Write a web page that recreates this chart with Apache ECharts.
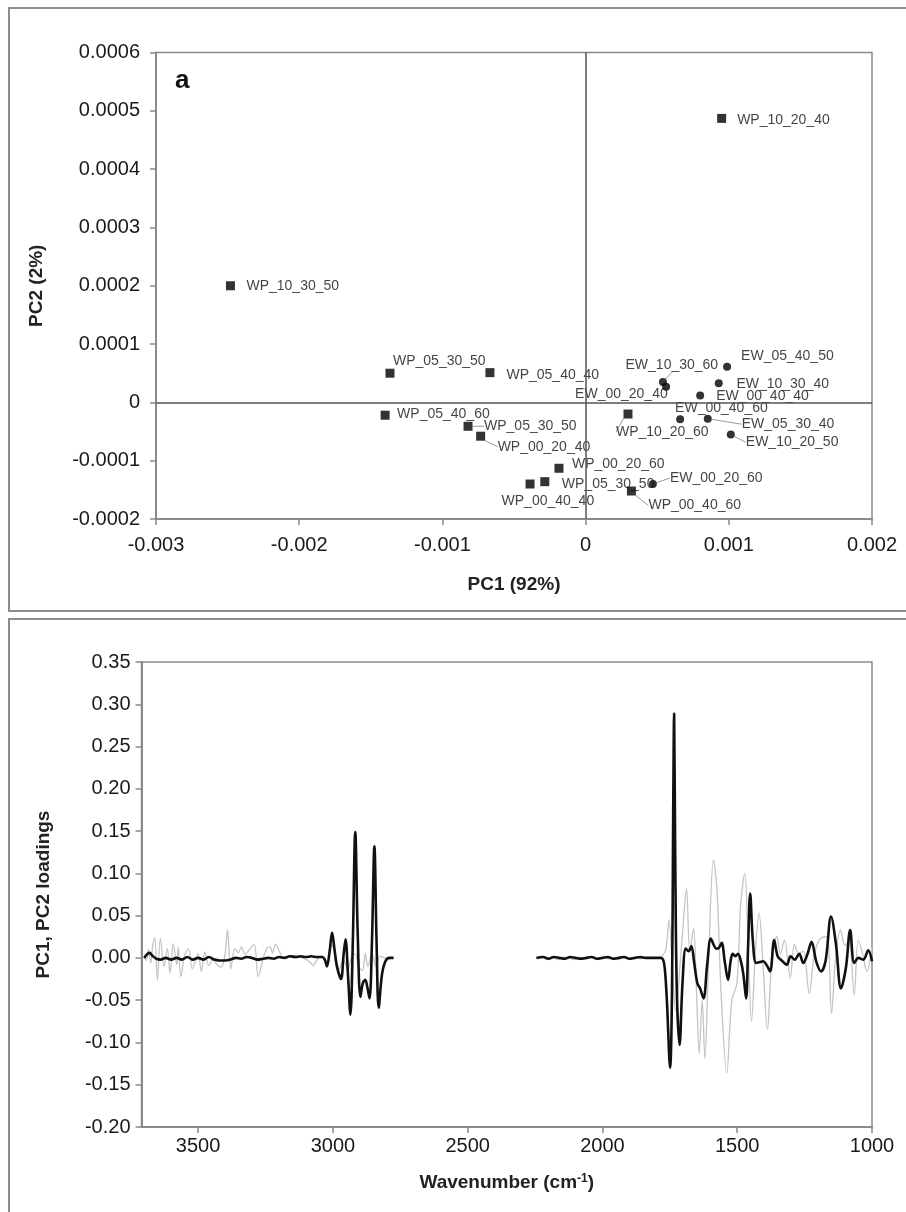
<!DOCTYPE html>
<html>
<head>
<meta charset="utf-8">
<script src="https://cdn.jsdelivr.net/npm/echarts@6/dist/echarts.min.js"></script>
<style>
  html, body { margin: 0; padding: 0; background: #fff; }
  #chart { width: 906px; height: 1212px; }
</style>
</head>
<body>
<div id="chart"></div>
<script>
// scores plot (a)
const wpNames = ['WP_10_20_40', 'WP_10_30_50', 'WP_05_30_50', 'WP_05_40_40', 'WP_05_40_60', 'WP_05_30_50',
  'WP_00_20_40', 'WP_00_20_60', 'WP_05_30_50', 'WP_00_40_40', 'WP_10_20_60', 'WP_00_40_60'];
const wpPC1 = [0.00095, -0.00248, -0.001366, -0.000668, -0.0014, -0.000821, -0.000733, -0.000186, -0.000285, -0.000388, 0.000296, 0.00032];
const wpPC2 = [0.000487, 0.0002, 0.00005, 0.000051, -0.000022, -0.000041, -0.000058, -0.000113, -0.000136, -0.00014, -0.00002, -0.000152];

const ewNames = ['EW_05_40_50', 'EW_10_30_40', 'EW_10_30_60', 'EW_00_20_40', 'EW_00_40_40', 'EW_00_40_60',
  'EW_05_30_40', 'EW_10_20_50', 'EW_00_20_60'];
const ewPC1 = [0.000988, 0.00093, 0.00054, 0.000562, 0.0008, 0.00066, 0.000853, 0.001014, 0.00047];
const ewPC2 = [0.000061, 0.000033, 0.000035, 0.000027, 0.000012, -0.000029, -0.000028, -0.000055, -0.00014];

// label nudges (px) and which labels get a connector
const wpLabelShift = [[6, 1.5], [6.5, 0], [-6.5, -12], [7, 2.5], [2.5, -1], [6.5, 0], [7.5, 10.5], [3.5, -4], [7.5, 2], [-38, 17.6], [-21.5, 18], [7.5, 14.6]];
const ewLabelShift = [[5, -10.7], [8.6, 1.3], [-46.4, -16.5], [-100, 7.5], [7, 1], [-14, -11], [25, 5.5], [6, 8], [8, -6]];
const wpLinks = [5, 6, 10, 11];
const ewLinks = [2, 6, 7, 8];

// loadings plot, [wavenumber, loading]
const pc1High = [
  [3700, 0.000], [3690, 0.004], [3680, 0.006], [3668, 0.002], [3655, -0.001], [3640, -0.002], [3620, 0.000],
  [3600, -0.002], [3580, 0.000], [3560, -0.002], [3540, 0.001], [3520, -0.002], [3500, 0.000], [3480, -0.002],
  [3460, 0.001], [3440, -0.002], [3420, -0.003], [3400, -0.003], [3380, -0.002], [3360, 0.000], [3340, -0.001],
  [3320, 0.001], [3300, 0.000], [3280, -0.002], [3260, -0.001], [3240, 0.000], [3220, -0.001], [3200, 0.001],
  [3180, 0.000], [3160, 0.002], [3140, 0.001], [3120, 0.002], [3100, 0.001], [3080, 0.002], [3060, 0.001],
  [3040, 0.001], [3030, -0.002], [3022, -0.010], [3012, 0.008], [3003, 0.030], [2994, 0.010], [2985, -0.010],
  [2970, -0.025], [2960, 0.005], [2953, 0.022], [2944, -0.020], [2935, -0.067], [2926, 0.020], [2917, 0.149],
  [2908, 0.030], [2898, -0.046], [2889, -0.030], [2880, -0.026], [2872, -0.035], [2864, -0.048], [2855, 0.020],
  [2846, 0.132], [2838, 0.020], [2830, -0.059], [2818, -0.020], [2805, -0.004], [2790, 0.000], [2775, 0.000]
];
const pc1Low = [
  [2245, 0.000], [2220, 0.001], [2200, -0.001], [2180, 0.001], [2160, 0.000], [2140, -0.001], [2120, 0.001],
  [2100, 0.000], [2080, -0.001], [2060, 0.000], [2040, 0.001], [2020, -0.001], [2000, 0.000], [1980, 0.001],
  [1960, -0.001], [1940, 0.000], [1920, 0.001], [1900, -0.001], [1880, 0.000], [1860, 0.001], [1840, 0.000],
  [1820, 0.000], [1800, 0.000], [1785, 0.000], [1775, -0.002], [1768, -0.015], [1761, -0.050], [1749, -0.130],
  [1742, -0.040], [1738, 0.150], [1734, 0.289], [1730, 0.120], [1724, -0.040], [1714, -0.103], [1703, -0.030],
  [1691, 0.011], [1680, 0.008], [1670, 0.014], [1660, -0.005], [1648, -0.030], [1638, -0.036], [1625, -0.048],
  [1612, -0.010], [1598, 0.023], [1588, 0.016], [1578, 0.011], [1568, 0.012], [1558, 0.018], [1546, -0.005],
  [1534, -0.026], [1525, -0.005], [1517, 0.005], [1507, 0.002], [1497, 0.005], [1487, -0.003], [1477, -0.020],
  [1467, -0.048], [1460, 0.010], [1452, 0.076], [1442, 0.020], [1430, -0.006], [1416, -0.005], [1404, -0.004],
  [1390, -0.009], [1378, -0.016], [1363, 0.021], [1350, 0.002], [1335, -0.003], [1316, -0.008], [1302, 0.002],
  [1287, -0.002], [1270, 0.005], [1255, -0.006], [1240, 0.004], [1224, 0.019], [1207, -0.004], [1189, -0.016],
  [1172, -0.003], [1152, 0.049], [1134, 0.017], [1115, -0.036], [1097, -0.012], [1081, 0.033], [1066, -0.006],
  [1050, 0.000], [1032, -0.002], [1014, 0.009], [1000, -0.004]
];
const pc2High = [
  [3700, 0.000], [3692, -0.003], [3684, 0.010], [3676, -0.006], [3668, 0.015], [3661, 0.024], [3651, -0.026],
  [3640, 0.023], [3626, -0.010], [3614, 0.011], [3604, -0.018], [3592, 0.017], [3579, -0.008], [3574, 0.013],
  [3564, -0.022], [3550, 0.003], [3535, 0.011], [3522, -0.013], [3510, -0.004], [3500, 0.005], [3488, -0.016],
  [3475, 0.007], [3460, -0.009], [3445, -0.002], [3430, -0.008], [3414, -0.011], [3400, 0.005], [3391, 0.033],
  [3379, -0.013], [3364, 0.011], [3352, 0.006], [3339, 0.013], [3326, 0.004], [3310, 0.010], [3292, 0.016],
  [3277, -0.022], [3262, -0.005], [3246, 0.011], [3234, 0.013], [3224, 0.006], [3213, 0.016], [3200, 0.009],
  [3185, 0.001], [3165, 0.002], [3145, 0.003], [3125, 0.001], [3105, -0.001], [3085, -0.005], [3073, -0.009],
  [3062, -0.004], [3050, 0.001], [3040, 0.002], [3030, -0.004], [3020, -0.008], [3010, 0.010], [3000, 0.015],
  [2990, -0.005], [2980, -0.015], [2960, -0.002], [2945, -0.015], [2930, 0.002], [2917, 0.005], [2905, -0.010],
  [2890, -0.015], [2880, 0.005], [2870, -0.010], [2855, 0.005], [2840, -0.010], [2825, 0.002], [2805, 0.000],
  [2785, 0.000], [2775, 0.000]
];
const pc2Low = [
  [2245, 0.000], [2225, 0.002], [2205, -0.002], [2185, 0.001], [2165, -0.002], [2145, 0.001], [2125, 0.000],
  [2105, -0.002], [2085, 0.001], [2060, -0.001], [2040, 0.001], [2020, -0.002], [2000, 0.001], [1980, -0.001],
  [1960, 0.000], [1940, -0.002], [1920, 0.001], [1900, -0.001], [1880, 0.000], [1860, -0.001], [1840, 0.000],
  [1820, 0.000], [1800, 0.000], [1780, 0.002], [1765, 0.010], [1753, 0.045], [1741, -0.010], [1728, -0.063],
  [1710, 0.000], [1698, 0.050], [1688, 0.082], [1676, 0.008], [1662, 0.035], [1651, -0.040], [1641, -0.113],
  [1630, -0.050], [1620, -0.119], [1606, 0.000], [1588, 0.116], [1575, 0.080], [1560, -0.040], [1539, -0.136],
  [1520, -0.050], [1501, -0.030], [1487, 0.065], [1472, 0.100], [1460, 0.020], [1447, -0.075], [1432, 0.010],
  [1419, 0.053], [1404, -0.010], [1388, -0.085], [1372, -0.005], [1353, 0.025], [1340, 0.005], [1325, 0.021],
  [1303, -0.024], [1288, 0.016], [1272, 0.005], [1255, 0.008], [1233, -0.042], [1215, 0.002], [1196, 0.021],
  [1172, 0.025], [1162, 0.020], [1150, -0.066], [1135, 0.000], [1117, 0.033], [1100, 0.015], [1085, 0.020],
  [1066, -0.044], [1051, 0.021], [1035, 0.005], [1019, -0.016], [1000, 0.013]
];

const FONT = 'Liberation Sans, Arial, sans-serif';
const chart = echarts.init(document.getElementById('chart'));

function scatterData(names, xs, ys, links) {
  return names.map((n, i) => ({
    name: n,
    value: [xs[i], ys[i]],
    labelLine: { show: links.indexOf(i) >= 0 }
  }));
}

// a gap between the two spectral windows
const pc1Data = pc1High.concat([[2500, null]], pc1Low);
const pc2Data = pc2High.concat([[2500, null]], pc2Low);

const tickFmt = (digits) => (v) => (Math.abs(v) < 1e-12 ? '0' : v.toFixed(digits));

const axisCommon = {
  axisLine: { show: true, onZero: false, lineStyle: { color: '#8a8a8a', width: 2 } },
  axisTick: { show: true, inside: false, length: 6, lineStyle: { color: '#8a8a8a', width: 1.5 } },
  splitLine: { show: false },
  nameTextStyle: { fontFamily: FONT, fontSize: 19, fontWeight: 'bold', color: '#222' }
};

const option = {
  animation: false,
  backgroundColor: '#fff',
  textStyle: { fontFamily: FONT },
  graphic: [
    { type: 'rect', shape: { x: 9, y: 8, width: 920, height: 603 }, style: { fill: 'none', stroke: '#8c8c8c', lineWidth: 2 }, z: 0 },
    { type: 'rect', shape: { x: 9, y: 619, width: 920, height: 620 }, style: { fill: 'none', stroke: '#8c8c8c', lineWidth: 2 }, z: 0 },
    { type: 'text', left: 175, top: 68, style: { text: 'a', font: 'bold 26px ' + FONT, fill: '#111' }, z: 10 }
  ],
  grid: [
    { left: 156, top: 52.5, right: 34, height: 466.5, show: true, borderColor: '#8a8a8a', borderWidth: 1.5, backgroundColor: 'transparent' },
    { left: 141.5, top: 662, right: 34, height: 465, show: true, borderColor: '#8a8a8a', borderWidth: 1.5, backgroundColor: 'transparent' }
  ],
  xAxis: [
    Object.assign({}, axisCommon, {
      gridIndex: 0, type: 'value', min: -0.003, max: 0.002, interval: 0.001,
      name: 'PC1 (92%)', nameLocation: 'middle', nameGap: 56,
      axisLabel: { margin: 16, fontSize: 20, color: '#1a1a1a', fontFamily: FONT, formatter: tickFmt(3) }
    }),
    Object.assign({}, axisCommon, {
      gridIndex: 1, type: 'value', min: 1000, max: 3710, interval: 500, inverse: true,
      name: 'Wavenumber (cm{sup|-1})', nameLocation: 'middle', nameGap: 46,
      nameTextStyle: Object.assign({}, axisCommon.nameTextStyle, {
        rich: { sup: { fontFamily: FONT, fontSize: 12, fontWeight: 'bold', color: '#222', verticalAlign: 'top', padding: [0, 0, 8, 0] } }
      }),
      axisLabel: { margin: 9, fontSize: 20, color: '#1a1a1a', fontFamily: FONT, showMaxLabel: false,
        formatter: (v) => (v % 500 === 0 ? String(v) : '') }
    })
  ],
  yAxis: [
    Object.assign({}, axisCommon, {
      gridIndex: 0, type: 'value', min: -0.0002, max: 0.0006, interval: 0.0001,
      name: 'PC2 (2%)', nameLocation: 'middle', nameGap: 110,
      axisLabel: { margin: 16, fontSize: 20, color: '#1a1a1a', fontFamily: FONT, formatter: tickFmt(4) }
    }),
    Object.assign({}, axisCommon, {
      gridIndex: 1, type: 'value', min: -0.2, max: 0.35, interval: 0.05,
      name: 'PC1, PC2 loadings', nameLocation: 'middle', nameGap: 88,
      axisLabel: { margin: 11, fontSize: 20, color: '#1a1a1a', fontFamily: FONT, formatter: (v) => v.toFixed(2) }
    })
  ],
  series: [
    {
      name: 'WP', type: 'scatter', xAxisIndex: 0, yAxisIndex: 0,
      symbol: 'rect', symbolSize: 9, itemStyle: { color: '#000' },
      data: scatterData(wpNames, wpPC1, wpPC2, wpLinks),
      label: { show: true, position: 'right', distance: 5, formatter: '{b}', fontSize: 14, color: '#111', fontFamily: FONT },
      labelLine: { lineStyle: { color: '#9a9a9a', width: 1 } },
      labelLayout: (p) => ({ dx: wpLabelShift[p.dataIndex][0], dy: wpLabelShift[p.dataIndex][1] }),
      markLine: {
        silent: true, symbol: 'none', label: { show: false },
        lineStyle: { color: '#555', width: 1.5, type: 'solid' },
        data: [{ xAxis: 0 }, { yAxis: 0 }]
      },
      z: 3
    },
    {
      name: 'EW', type: 'scatter', xAxisIndex: 0, yAxisIndex: 0,
      symbol: 'circle', symbolSize: 8, itemStyle: { color: '#000' },
      data: scatterData(ewNames, ewPC1, ewPC2, ewLinks),
      label: { show: true, position: 'right', distance: 5, formatter: '{b}', fontSize: 14, color: '#111', fontFamily: FONT },
      labelLine: { lineStyle: { color: '#9a9a9a', width: 1 } },
      labelLayout: (p) => ({ dx: ewLabelShift[p.dataIndex][0], dy: ewLabelShift[p.dataIndex][1] }),
      z: 3
    },
    {
      name: 'PC2', type: 'line', xAxisIndex: 1, yAxisIndex: 1,
      data: pc2Data, showSymbol: false, smooth: 0.35, connectNulls: false,
      lineStyle: { color: '#c4c4c4', width: 1.3 }, z: 2
    },
    {
      name: 'PC1', type: 'line', xAxisIndex: 1, yAxisIndex: 1,
      data: pc1Data, showSymbol: false, smooth: 0.35, connectNulls: false,
      lineStyle: { color: '#111', width: 2.6 }, z: 3
    }
  ]
};

chart.setOption(option);
</script>
</body>
</html>
